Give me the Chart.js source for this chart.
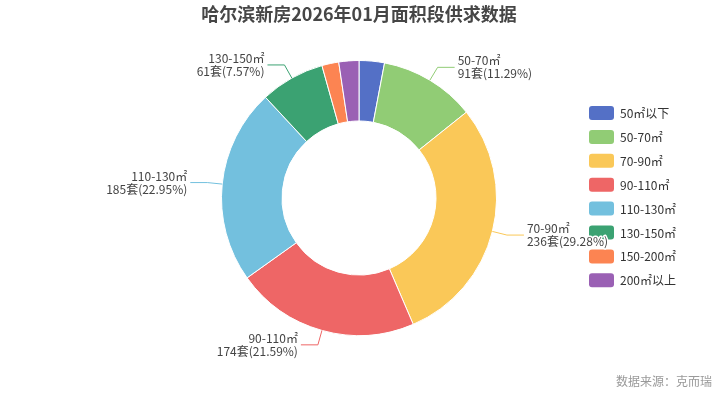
<!DOCTYPE html>
<html lang="zh">
<head>
<meta charset="UTF-8">
<title>哈尔滨新房2026年01月面积段供求数据</title>
<style>
  body { margin: 0; background: #fff; }
  .wrap { width: 719px; height: 395px; position: relative; }
</style>
</head>
<body>
<div class="wrap"><canvas id="myCanvas" width="719" height="395"></canvas></div>
<script src="https://cdn.jsdelivr.net/npm/chart.js@4.4.1/dist/chart.umd.min.js"></script>
<script>
const title = '哈尔滨新房2026年01月面积段供求数据';
const source = '数据来源：克而瑞';
const categories = ['50㎡以下', '50-70㎡', '70-90㎡', '90-110㎡', '110-130㎡', '130-150㎡', '150-200㎡', '200㎡以上'];
const units = [24, 91, 236, 174, 185, 61, 16, 19];
const percents = ['2.98%', '11.29%', '29.28%', '21.59%', '22.95%', '7.57%', '1.99%', '2.36%'];
const showLabel = [false, true, true, true, true, true, false, false];
const colors = ['#5470c6', '#91cc75', '#fac858', '#ee6666', '#73c0de', '#3ba272', '#fc8452', '#9a60b4'];

const FONT = '"Noto Sans CJK SC", "Noto Sans", sans-serif';

// title, legend, source and slice labels
const decor = {
  id: 'decor',
  afterDraw(chart) {
    const ctx = chart.ctx;
    ctx.save();

    ctx.fillStyle = '#464646';
    ctx.font = 'bold 18px ' + FONT;
    ctx.textAlign = 'center';
    ctx.textBaseline = 'middle';
    ctx.fillText(title, 359, 14);

    // legend
    ctx.font = '12px ' + FONT;
    ctx.textAlign = 'left';
    categories.forEach((c, i) => {
      const y = 113 + i * 23.9;
      ctx.fillStyle = colors[i];
      ctx.beginPath();
      ctx.roundRect(589, y - 7, 25, 14, 3);
      ctx.fill();
      ctx.fillStyle = '#333';
      ctx.fillText(c, 620, y + 0.5);
    });

    // source
    ctx.fillStyle = '#999';
    ctx.textAlign = 'right';
    ctx.fillText(source, 712, 381);

    // slice labels
    const meta = chart.getDatasetMeta(0);
    meta.data.forEach((arc, i) => {
      if (!showLabel[i]) return;
      const mid = (arc.startAngle + arc.endAngle) / 2;
      const r = arc.outerRadius;
      const x0 = arc.x + Math.cos(mid) * r;
      const y0 = arc.y + Math.sin(mid) * r;
      const x1 = arc.x + Math.cos(mid) * (r + 15);
      const y1 = arc.y + Math.sin(mid) * (r + 15);
      const right = Math.cos(mid) >= 0;
      const x2 = x1 + (right ? 17 : -17);
      ctx.strokeStyle = colors[i];
      ctx.lineWidth = 1;
      ctx.beginPath();
      ctx.moveTo(x0, y0);
      ctx.lineTo(x1, y1);
      ctx.lineTo(x2, y1);
      ctx.stroke();

      const tx = x2 + (right ? 3 : -3);
      ctx.textAlign = right ? 'left' : 'right';
      ctx.font = '12px ' + FONT;
      const lines = [categories[i], units[i] + '套(' + percents[i] + ')'];
      lines.forEach((t, k) => {
        const ty = y1 - 6.5 + k * 13;
        ctx.strokeStyle = '#fff';
        ctx.lineWidth = 3;
        ctx.lineJoin = 'round';
        ctx.strokeText(t, tx, ty);
        ctx.fillStyle = '#444';
        ctx.fillText(t, tx, ty);
      });
    });
    ctx.restore();
  }
};

new Chart(document.getElementById('myCanvas'), {
  type: 'doughnut',
  data: {
    labels: categories,
    datasets: [{
      data: units,
      backgroundColor: colors,
      borderColor: '#fff',
      borderWidth: 1
    }]
  },
  options: {
    responsive: false,
    animation: false,
    cutout: '56%',
    layout: { padding: { top: 60, bottom: 59, left: 221, right: 222 } },
    plugins: {
      legend: { display: false },
      tooltip: { enabled: false }
    }
  },
  plugins: [decor]
});
</script>
</body>
</html>
